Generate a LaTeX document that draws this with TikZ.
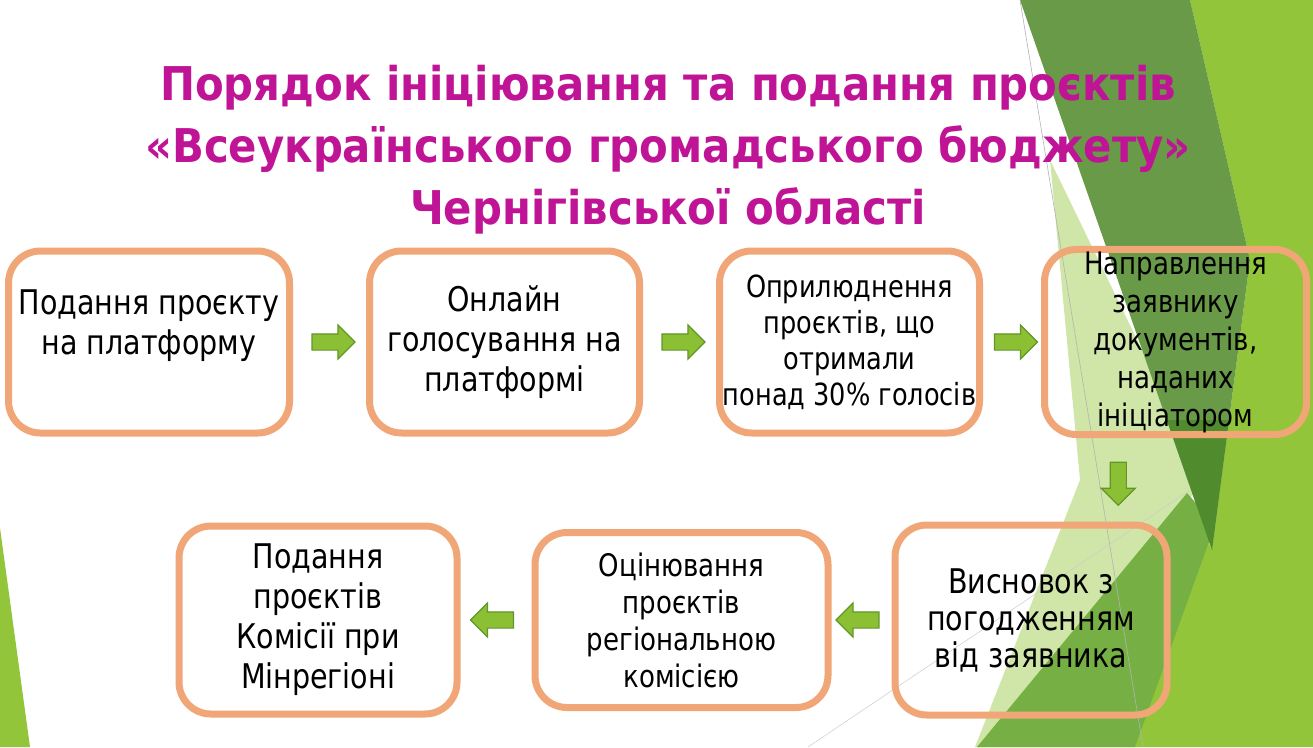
\documentclass[tikz,border=0pt]{standalone}
\usepackage{fontspec}
\setmainfont{DejaVu Sans}[FakeStretch=0.84]
\newfontfamily\titlefont{DejaVu Sans}[FakeStretch=0.9]
\usetikzlibrary{shapes,arrows,positioning,calc}

\definecolor{boxline}{RGB}{241,166,120}
\definecolor{arrowfill}{RGB}{140,192,52}
\definecolor{arrowline}{RGB}{98,150,40}
\definecolor{titlemag}{RGB}{192,20,150}
\definecolor{limegreen}{RGB}{146,197,58}
\definecolor{palegreen}{RGB}{208,230,168}
\definecolor{midgreen}{RGB}{118,176,68}
\definecolor{darkgreen}{RGB}{104,154,72}
\definecolor{darkergreen}{RGB}{80,140,46}

\begin{document}
\begin{tikzpicture}[x=1pt, y=-1pt,
    stepbox/.style={draw=boxline, line width=7pt, rounded corners=32pt, align=center, inner sep=2pt, outer sep=0pt, minimum height=182pt, font=\fontsize{34}{40}\selectfont},
    smallbox/.style={stepbox, font=\fontsize{31}{37}\selectfont},
    flowarrow/.style={single arrow, draw=arrowline, fill=arrowfill, line width=1.2pt, inner sep=7.5pt, minimum height=43pt, single arrow head extend=9pt, single arrow head indent=0pt}]
    % background
    \fill[white] (0,0) rectangle (1313,747);
    \useasboundingbox (0,0) rectangle (1313,747);
    \fill[limegreen] (1190,0) -- (1313,0) -- (1313,747) -- (977,747) -- (1187,493) -- (1212,550) -- (1250,260) -- cycle;
    \fill[palegreen] (1050,160) -- (1205,480) -- (985,747) -- (975,747) -- (1080,480) -- cycle;
    \fill[midgreen] (977,747) -- (1187,493) -- (1215,525) -- (1135,747) -- cycle;
    \fill[darkgreen] (1020,0) -- (1190,0) -- (1250,260) -- (1212,550) -- cycle;
    \fill[darkergreen] (1167,420) -- (1229,420) -- (1212,550) -- cycle;
    \draw[gray!60, line width=0.6pt] (1020,0) -- (1143,747);
    \draw[gray!40, line width=0.5pt] (808,747) -- (1190,490);
    \fill[limegreen] (0,528) -- (30,747) -- (0,747) -- cycle;

    \node[font=\titlefont\bfseries\fontsize{46.5}{62}\selectfont, text=titlemag, align=center] (title) at (668,150) {Порядок ініціювання та подання проєктів\\«Всеукраїнського громадського бюджету»\\Чернігівської області};

    % first row
    \node[stepbox, minimum width=281pt] (b1) at (149,342) {Подання проєкту\\на платформу\\~};
    \node[stepbox, minimum width=270pt, right=80pt of b1] (b2) {Онлайн\\голосування на\\платформі};
    \node[smallbox, minimum width=260pt, right=80pt of b2, font=\fontsize{30.5}{36}\selectfont] (b3) {Оприлюднення\\проєктів, що\\отримали\\понад 30\% голосів};
    \node[smallbox, minimum width=262pt, right=65pt of b3, font=\fontsize{31}{38}\selectfont] (b4) {Направлення\\заявнику\\документів,\\наданих\\ініціатором};

    % second row
    \node[stepbox, minimum width=272pt, minimum height=190pt, font=\fontsize{34}{37}\selectfont] (b5) at (1031,620) {Висновок з\\погодженням\\від заявника};
    \node[smallbox, minimum width=293pt, minimum height=175pt, left=67pt of b5] (b6) {Оцінювання\\проєктів\\регіональною\\комісією};
    \node[stepbox, minimum width=278pt, minimum height=188pt, left=78pt of b6] (b7) {Подання\\проєктів\\Комісії при\\Мінрегіоні};

    \node[flowarrow] (a12) at ($(b1.east)!0.5!(b2.west)$) {};
    \node[flowarrow] (a23) at ($(b2.east)!0.5!(b3.west)$) {};
    \node[flowarrow] (a34) at ($(b3.east)!0.5!(b4.west)$) {};
    \node[flowarrow, shape border rotate=270, xshift=15pt] (a45) at ($(b4.south)!0.5!(b5.north)$) {};
    \node[flowarrow, shape border rotate=180] (a56) at ($(b5.west)!0.5!(b6.east)$) {};
    \node[flowarrow, shape border rotate=180] (a67) at ($(b6.west)!0.5!(b7.east)$) {};
\end{tikzpicture}
\end{document}
